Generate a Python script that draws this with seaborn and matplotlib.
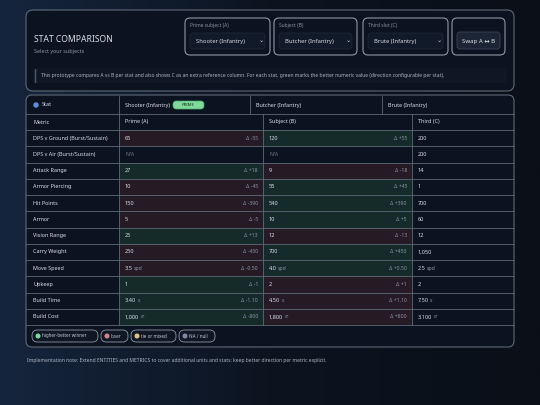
import matplotlib
matplotlib.use("Agg")
import matplotlib.pyplot as plt
import seaborn as sns
import numpy as np
from matplotlib.patches import FancyBboxPatch, Rectangle

sns.set_theme(style="dark")
plt.rcParams['font.family'] = ['Noto Sans', 'DejaVu Sans']

metrics = ["DPS v Ground (Burst/Sustain)", "DPS v Air (Burst/Sustain)", "Attack Range", "Armor Piercing",
           "Hit Points", "Armor", "Vision Range", "Carry Weight", "Move Speed", "Upkeep", "Build Time", "Build Cost"]
a_vals = ["65", "N/A", "27", "10", "150", "5", "25", "250", "3.5", "1", "3.40", "1,000"]
b_vals = ["120", "N/A", "9", "55", "540", "10", "12", "700", "4.0", "2", "4.50", "1,800"]
c_vals = ["200", "200", "14", "1", "700", "60", "12", "1,050", "2.5", "2", "7.50", "3,100"]
units = ["", "", "", "", "", "", "", "", "spd", "", "s", "cr"]
a_delta = ["Δ -55", "", "Δ +18", "Δ -45", "Δ -390", "Δ -5", "Δ +13", "Δ -450", "Δ -0.50", "Δ -1", "Δ -1.10", "Δ -800"]
b_delta = ["Δ +55", "", "Δ -18", "Δ +45", "Δ +390", "Δ +5", "Δ -13", "Δ +450", "Δ +0.50", "Δ +1", "Δ +1.10", "Δ +800"]
a_win = [0, -1, 1, 0, 0, 0, 1, 0, 0, 1, 1, 1]  # 1 win, 0 lose, -1 NA
entities = ["Shooter (Infantry)", "Butcher (Infantry)", "Brute (Infantry)"]
legend_items = ["higher-better winner", "loser", "tie or mixed", "NA / null"]

fig = plt.figure(figsize=(5.4, 4.05), dpi=100)
ax = fig.add_axes([0, 0, 1, 1])
ax.set_xlim(0, 540); ax.set_ylim(405, 0); ax.axis("off")
grad = np.linspace(0, 1, 256).reshape(1, -1)
ax.imshow(np.vstack([grad] * 2), extent=[0, 540, 405, 0], aspect="auto",
          cmap=matplotlib.colors.LinearSegmentedColormap.from_list("bg", ["#15253d", "#0c1420", "#0a0f18"]), zorder=0)

TXT = "#d9dee7"; DIM = "#8a93a3"; BORDER = "#5f6978"
PANEL = "#0c1320"; GREEN = "#152b2a"; RED = "#261b25"

def rbox(x0, y0, x1, y1, fc, ec=BORDER, r=6, lw=0.8, z=1):
    ax.add_patch(FancyBboxPatch((x0, y0), x1 - x0, y1 - y0, boxstyle=f"round,pad=0,rounding_size={r}",
                                fc=fc, ec=ec, lw=lw, zorder=z))

def t(x, y, s, size=4.2, c=TXT, w="normal", ha="left", z=5, **kw):
    return ax.text(x, y, s, fontsize=size, color=c, weight=w, ha=ha, va="center", zorder=z, **kw)

rbox(26, 10, 514, 91, PANEL, r=7)
t(34, 40, "STAT COMPARISON", size=6.2, w="bold")
t(34, 51, "Select your subjects", size=3.9, c=DIM)
for (x0, x1, lab, val) in [(185, 270, "Prime subject (A)", entities[0]),
                           (274, 357, "Subject (B)", entities[1]),
                           (363, 448, "Third slot (C)", entities[2])]:
    rbox(x0, 18, x1, 55, PANEL, ec="#8d96a4", r=5)
    t(x0 + 5, 26, lab, size=3.5, c=DIM)
    rbox(x0 + 5, 33, x1 - 5, 49, "#111a28", ec="#1e2938", r=3, lw=0.5)
    t(x0 + 11, 41, val, size=4.2)
    t(x1 - 9, 41, "⌄", size=4.5, ha="center")
rbox(452, 18, 505, 55, PANEL, ec="#8d96a4", r=5)
rbox(457, 32, 500, 49, "#1b2535", ec="#3a4555", r=3, lw=0.6)
t(478.5, 41, "Swap A ↔ B", size=4.4, w="bold", ha="center")
rbox(33, 68, 507, 83, "#0f1724", ec="none", r=3)
ax.plot([35, 35], [69, 82], color="#4a5a75", lw=1, zorder=3)
t(41, 75.5, "This prototype compares A vs B per stat and also shows C as an extra reference column. "
            "For each stat, green marks the better numeric value (direction configurable per stat).", size=3.6, c="#aeb5c2")

rbox(26, 95, 514, 347, PANEL, r=6)
top = 96; h1 = 114; h2 = 130; rh = 16.25
xs1 = [26, 119, 250, 382, 514]
xs2 = [26, 119, 263, 412, 514]
ax.plot([26, 514], [h1, h1], color=BORDER, lw=0.6, zorder=3)
for x in xs1[1:-1]:
    ax.plot([x, x], [top, h1], color=BORDER, lw=0.6, zorder=3)
ax.add_patch(plt.Circle((36, 105), 2, color="#5a8fe0", zorder=5))
t(42, 105, "Stat", size=3.9)
t(125, 105, entities[0], size=3.9)
rbox(173, 101, 204, 109, "#7fd99a", ec="#4fb36f", r=3.5, lw=0.5, z=4)
t(188.5, 105, "PRIME", size=3.1, c="#0e3a1d", w="bold", ha="center")
t(256, 105, entities[1], size=3.9)
t(388, 105, entities[2], size=3.9)
t(33, 122, "Metric", size=3.9, w="bold")
t(125, 122, "Prime (A)", size=3.9, w="bold")
t(269, 122, "Subject (B)", size=3.9, w="bold")
t(418, 122, "Third (C)", size=3.9, w="bold")

fig.canvas.draw()
ren = fig.canvas.get_renderer()
inv = ax.transData.inverted()

def value(xv, yc, v, unit):
    tx = t(xv, yc, v, size=4.0, w="bold")
    if unit:
        bb = tx.get_window_extent(ren)
        xe = inv.transform((bb.x1, bb.y0))[0]
        t(xe + 1.2, yc, unit, size=3.7, c=DIM)

for i, m in enumerate(metrics):
    y0 = h2 + i * rh; yc = y0 + rh / 2
    if a_win[i] >= 0:
        ca, cb = (GREEN, RED) if a_win[i] == 1 else (RED, GREEN)
        ax.add_patch(Rectangle((xs2[1], y0), xs2[2] - xs2[1], rh, fc=ca, ec="none", zorder=2))
        ax.add_patch(Rectangle((xs2[2], y0), xs2[3] - xs2[2], rh, fc=cb, ec="none", zorder=2))
    t(33, yc, m, size=3.9, w="bold")
    for xv, v, d, xe in [(125, a_vals[i], a_delta[i], 258), (269, b_vals[i], b_delta[i], 407)]:
        if v == "N/A":
            t(xv, yc, v, size=3.7, c="#6f7888")
        else:
            value(xv, yc, v, units[i])
            t(xe, yc, d, size=3.7, c=DIM, ha="right")
    value(418, yc, c_vals[i], units[i])
    ax.plot([26, 514], [y0, y0], color=BORDER, lw=0.6, zorder=3)

yend = h2 + len(metrics) * rh
ax.plot([26, 514], [yend, yend], color=BORDER, lw=0.6, zorder=3)
for x in xs2[1:-1]:
    ax.plot([x, x], [h1, yend], color=BORDER, lw=0.6, zorder=3)

dots = ["#7fd99a", "#e07f8c", "#e0c27f", "#7f8aa3"]
widths = [66, 27, 45, 36]
x = 32
for lab, dc, w in zip(legend_items, dots, widths):
    rbox(x, 330, x + w, 342, "#0f1724", ec="#8d96a4", r=5.5, lw=0.6, z=4)
    ax.add_patch(plt.Circle((x + 6, 336), 1.8, color=dc, zorder=5))
    t(x + 10, 336, lab, size=3.3, c="#c3c9d3")
    x += w + 3

t(27, 360.5, "Implementation note: Extend ENTITIES and METRICS to cover additional units and stats; keep better direction per metric explicit.",
  size=3.6, c="#aeb5c2")

fig.savefig("out.png", dpi=100, facecolor="#0b111b")
